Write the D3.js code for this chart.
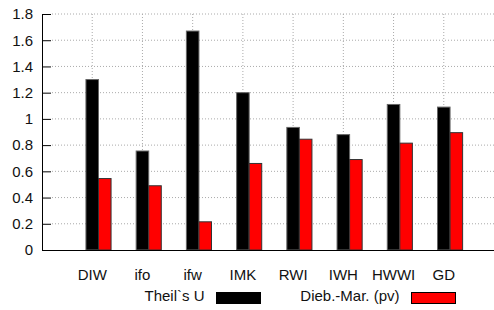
<!DOCTYPE html>
<meta charset="utf-8">
<head>
  <script src="https://d3js.org/d3.v7.min.js"></script>
  <style>
    body { margin: 0; background: #fff; }
    text { font-family: "Liberation Sans", Arial, sans-serif; font-size: 15px; fill: #111; }
    .grid line { stroke: #aaa; stroke-dasharray: 1,2; }
  </style>
</head>
<body>
  <div id="chart"></div>
  <script>
    // data
    var institutes = ["DIW", "ifo", "ifw", "IMK", "RWI", "IWH", "HWWI", "GD"];
    var theilU = [1.30, 0.755, 1.67, 1.20, 0.935, 0.88, 1.11, 1.09];
    var diebMar = [0.545, 0.49, 0.215, 0.66, 0.845, 0.69, 0.815, 0.895];
    var seriesNames = ["Theil`s U", "Dieb.-Mar. (pv)"];
    var seriesColors = ["#000000", "#ff0000"];
    var yTicks = [0, 0.2, 0.4, 0.6, 0.8, 1, 1.2, 1.4, 1.6, 1.8];

    var width = 494, height = 310;
    var margin = { top: 14, right: 0, bottom: 60, left: 42 };

    var svg = d3.select("#chart")
      .append("svg")
      .attr("width", width)
      .attr("height", height);

    // x in "slot" units: category i sits at i, plot runs from -1 to 8
    var x = d3.scaleLinear()
      .domain([-1, 8])
      .range([margin.left, width - margin.right]);

    var y = d3.scaleLinear()
      .domain([0, 1.8])
      .range([height - margin.bottom, margin.top]);

    // horizontal grid
    svg.append("g")
      .attr("class", "grid")
      .selectAll("line")
      .data(yTicks.slice(1))
      .enter()
      .append("line")
      .attr("x1", x(-1) + 10)
      .attr("x2", x(8))
      .attr("y1", function (d) { return y(d); })
      .attr("y2", function (d) { return y(d); });

    // vertical grid at each category
    svg.append("g")
      .attr("class", "grid")
      .selectAll("line")
      .data(institutes)
      .enter()
      .append("line")
      .attr("x1", function (d, i) { return x(i); })
      .attr("x2", function (d, i) { return x(i); })
      .attr("y1", y(1.8))
      .attr("y2", y(0));

    // bars
    var bw = 0.25;
    var groups = [theilU, diebMar];
    groups.forEach(function (vals, s) {
      svg.append("g")
        .selectAll("rect")
        .data(vals)
        .enter()
        .append("rect")
        .attr("x", function (d, i) { return x(i - bw / 2 + s * bw); })
        .attr("width", x(bw) - x(0))
        .attr("y", function (d) { return y(d); })
        .attr("height", function (d) { return y(0) - y(d); })
        .attr("fill", seriesColors[s])
        .attr("stroke", s == 0 ? "#666" : "#333")
        .attr("stroke-width", 1);
    });

    // y axis, ticks pointing inward
    svg.append("g")
      .attr("transform", "translate(" + x(-1) + ",0)")
      .call(d3.axisRight(y).tickValues(yTicks).tickSize(9).tickFormat(function (d) { return d; }))
      .call(function (g) {
        g.select(".domain").attr("stroke", "#000").attr("d", "M0.5," + y(1.8) + "V" + y(0));
        g.selectAll(".tick line").attr("stroke", "#000");
        g.selectAll(".tick text")
          .attr("x", -9)
          .attr("text-anchor", "end")
          .style("font-size", "15px");
      });

    // x baseline
    svg.append("line")
      .attr("x1", x(-1))
      .attr("x2", x(8))
      .attr("y1", y(0) + 0.5)
      .attr("y2", y(0) + 0.5)
      .attr("stroke", "#000");

    // x labels
    svg.append("g")
      .selectAll("text")
      .data(institutes)
      .enter()
      .append("text")
      .attr("x", function (d, i) { return x(i); })
      .attr("y", 280)
      .attr("text-anchor", "middle")
      .text(function (d) { return d; });

    // legend
    var legendBox = [216.5, 411.5];
    seriesNames.forEach(function (name, s) {
      svg.append("text")
        .attr("x", legendBox[s] - 12)
        .attr("y", 301)
        .attr("text-anchor", "end")
        .text(name);
      svg.append("rect")
        .attr("x", legendBox[s])
        .attr("y", 292.5)
        .attr("width", 44)
        .attr("height", 11)
        .attr("fill", seriesColors[s])
        .attr("stroke", "#000");
    });
  </script>
</body>
